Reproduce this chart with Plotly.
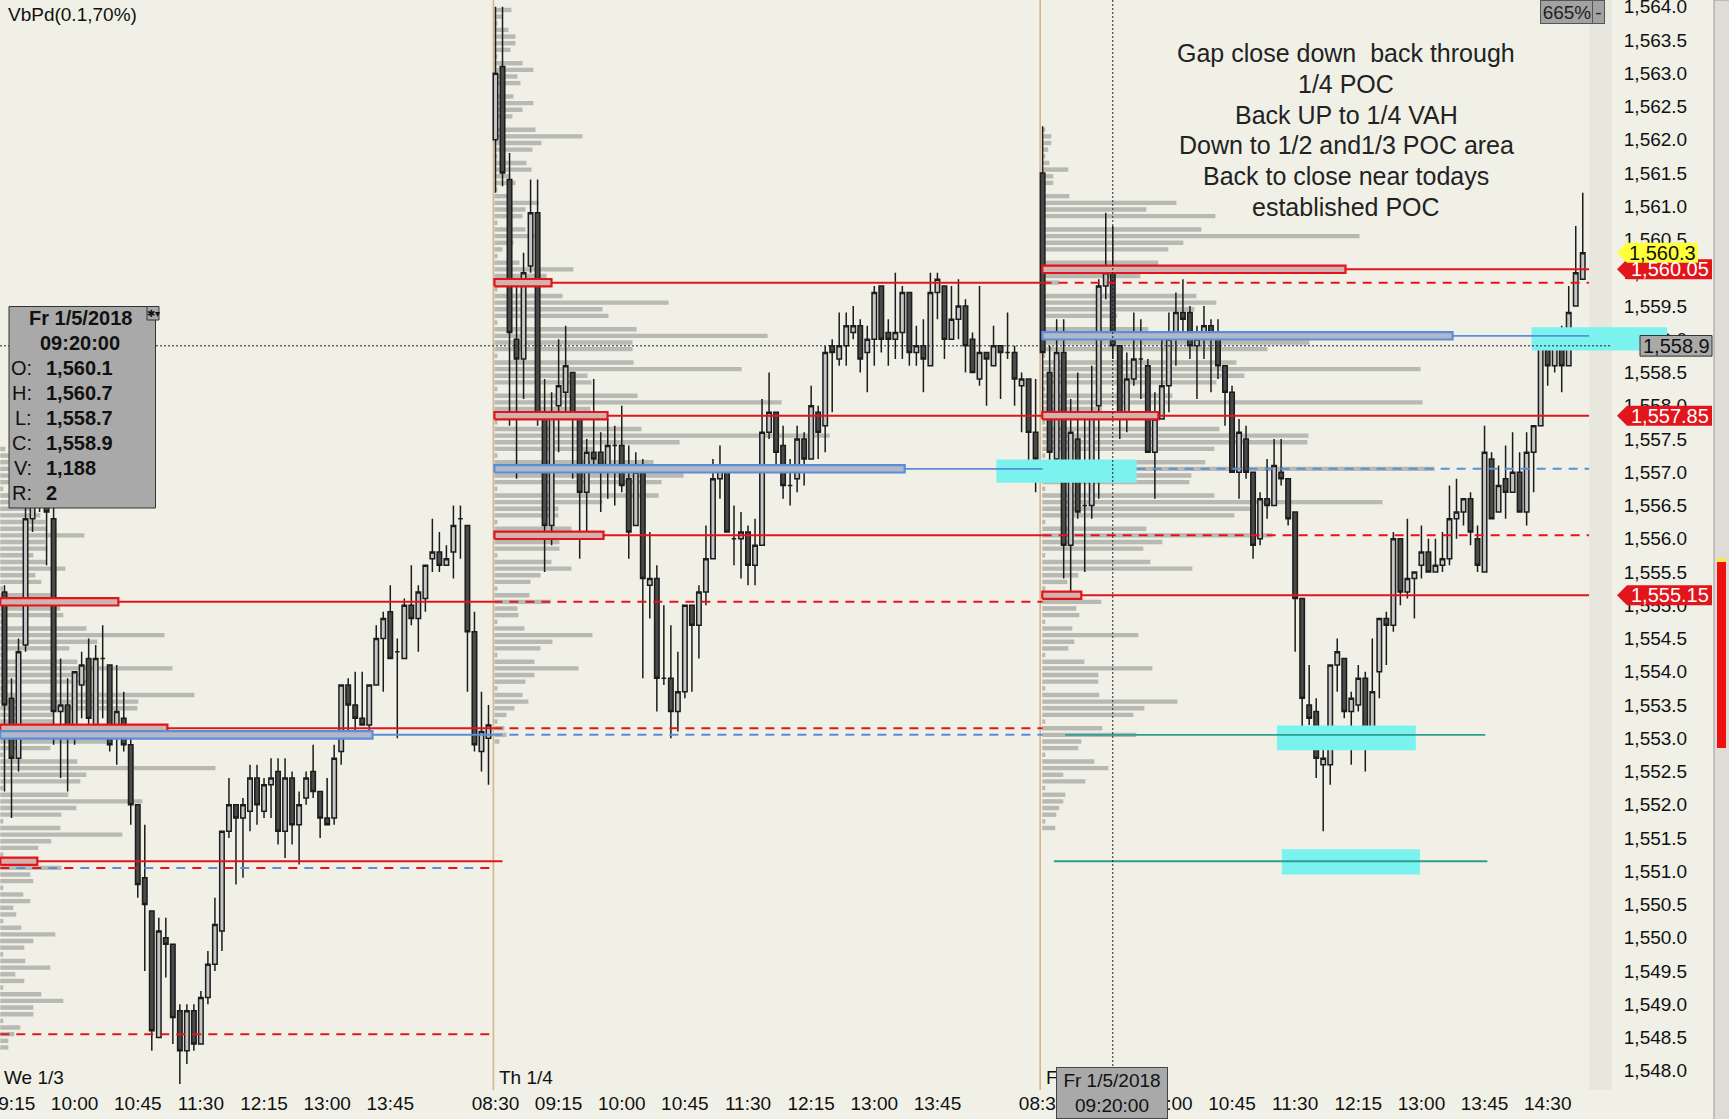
"""
Volume-profile chart (RTY 5-minute bars, 3 sessions) recreated with Plotly
"""
import numpy as np
import plotly.graph_objects as go

# ---------------------------------------------------------------- data
DAY_STARTS = [0, 70, 148]
DAY_LABELS = ['We 1/3', 'Th 1/4', 'F']

# Friday 09:15 sits under the crosshair time box, so it is not listed
TICK_IDX = [1, 10, 19, 28, 37, 46, 55,
            70, 79, 88, 97, 106, 115, 124, 133,
            148, 166, 175, 184, 193, 202, 211, 220]
TICK_TEXT = ['09:15', '10:00', '10:45', '11:30', '12:15', '13:00', '13:45',
             '08:30', '09:15', '10:00', '10:45', '11:30', '12:15', '13:00', '13:45',
             '08:30', '10:00', '10:45', '11:30', '12:15', '13:00', '13:45', '14:30']

# Wednesday 1/3 (09:10 - 14:55)
O1 = [1555.2, 1553.6, 1552.7, 1554.4, 1556.3, 1556.5, 1557.0, 1556.3, 1553.4, 1553.5,
      1553.2, 1553.8, 1554.2, 1553.2, 1554.2, 1554.1, 1553.0, 1553.3, 1552.9, 1552.0,
      1550.9, 1550.4, 1548.5, 1550.0, 1549.9, 1548.9, 1548.3, 1548.9, 1548.4, 1549.1,
      1549.6, 1550.1, 1551.6, 1552.0, 1551.8, 1551.9, 1552.4, 1551.9, 1552.3, 1552.5,
      1551.6, 1552.4, 1551.7, 1552.1, 1552.5, 1552.2, 1551.8, 1551.8, 1552.8, 1553.8,
      1553.5, 1553.3, 1553.2, 1553.8, 1554.5, 1554.9, 1554.3, 1554.2, 1555.0, 1554.8,
      1555.1, 1555.7, 1555.8, 1555.6, 1555.8, 1556.3, 1556.2, 1554.6, 1552.8, 1553.0]
H1 = [1555.3, 1553.9, 1554.5, 1556.7, 1556.8, 1557.2, 1557.3, 1556.9, 1554.2, 1553.9,
      1554.0, 1554.3, 1554.5, 1554.4, 1554.7, 1554.1, 1554.1, 1553.7, 1553.0, 1552.0,
      1551.7, 1550.4, 1550.3, 1550.3, 1549.9, 1549.0, 1549.0, 1549.0, 1549.2, 1549.8,
      1550.6, 1551.6, 1552.4, 1552.0, 1552.1, 1552.6, 1552.6, 1552.4, 1552.7, 1552.7,
      1552.7, 1552.5, 1552.2, 1552.5, 1552.9, 1552.2, 1552.4, 1552.9, 1553.8, 1553.9,
      1554.0, 1554.0, 1553.8, 1554.7, 1554.9, 1555.3, 1554.5, 1555.1, 1555.6, 1555.3,
      1555.6, 1556.3, 1556.1, 1555.9, 1556.5, 1556.5, 1556.2, 1554.9, 1553.7, 1553.5]
L1 = [1552.2, 1551.8, 1552.5, 1554.3, 1556.1, 1556.4, 1555.6, 1552.9, 1552.4, 1552.2,
      1552.9, 1553.3, 1553.2, 1553.2, 1553.3, 1552.8, 1552.6, 1552.8, 1551.7, 1550.6,
      1549.5, 1548.3, 1548.5, 1549.4, 1548.4, 1547.8, 1548.1, 1548.3, 1548.4, 1549.0,
      1549.5, 1549.8, 1551.5, 1550.8, 1550.9, 1551.6, 1551.7, 1551.8, 1551.8, 1551.4,
      1551.2, 1551.4, 1551.1, 1552.0, 1552.1, 1551.5, 1551.7, 1551.7, 1552.6, 1553.0,
      1553.0, 1553.2, 1553.1, 1553.8, 1553.7, 1554.2, 1553.0, 1554.2, 1554.7, 1554.3,
      1554.9, 1555.5, 1555.5, 1555.6, 1555.4, 1555.7, 1553.7, 1552.8, 1552.5, 1552.3]
C1 = [1553.5, 1552.7, 1554.3, 1556.3, 1556.5, 1557.0, 1556.4, 1553.4, 1553.5, 1553.1,
      1554.0, 1554.1, 1553.3, 1554.2, 1554.2, 1552.9, 1553.4, 1552.9, 1552.0, 1550.8,
      1550.5, 1548.6, 1550.1, 1549.9, 1548.8, 1548.3, 1548.9, 1548.4, 1549.1, 1549.6,
      1550.2, 1551.6, 1552.0, 1551.8, 1552.0, 1552.4, 1552.0, 1552.3, 1552.4, 1551.6,
      1552.4, 1551.7, 1552.0, 1552.4, 1552.2, 1551.8, 1551.7, 1552.7, 1553.8, 1553.5,
      1553.3, 1553.2, 1553.8, 1554.5, 1554.8, 1554.2, 1554.3, 1555.0, 1554.8, 1555.2,
      1555.6, 1555.8, 1555.6, 1555.7, 1556.2, 1556.3, 1554.6, 1552.9, 1553.1, 1553.2]

# Thursday 1/4 (08:30 - 14:55)
O2 = [1562.0, 1563.1, 1561.4, 1559.0, 1558.7, 1560.1, 1560.9, 1557.8, 1556.2, 1558.0,
      1558.2, 1558.5, 1557.8, 1556.7, 1557.3, 1557.3, 1557.1, 1557.4, 1557.4, 1556.9,
      1556.2, 1557.0, 1555.3, 1555.4, 1553.9, 1553.9, 1553.4, 1553.7, 1555.0, 1554.7,
      1555.2, 1555.7, 1556.9, 1557.1, 1556.0, 1556.0, 1556.1, 1555.6, 1555.9, 1557.6,
      1557.9, 1557.4, 1556.8, 1556.9, 1557.5, 1557.2, 1557.9, 1557.7, 1558.9, 1558.7,
      1558.9, 1559.1, 1559.2, 1558.8, 1559.0, 1559.8, 1559.1, 1559.0, 1559.1, 1559.7,
      1558.8, 1558.9, 1558.6, 1559.7, 1559.8, 1559.0, 1559.3, 1559.5, 1559.0, 1558.4,
      1558.8, 1558.6, 1558.9, 1558.8, 1558.8, 1558.3, 1558.4, 1557.6]
H2 = [1564.0, 1564.0, 1561.8, 1559.8, 1560.3, 1561.4, 1561.4, 1558.4, 1558.2, 1559.0,
      1559.2, 1558.5, 1557.8, 1557.5, 1558.4, 1557.6, 1557.8, 1557.7, 1558.0, 1557.4,
      1557.3, 1557.2, 1556.1, 1555.6, 1555.0, 1554.7, 1554.3, 1555.0, 1555.0, 1555.3,
      1556.2, 1557.2, 1557.4, 1557.1, 1556.5, 1556.4, 1556.2, 1556.3, 1558.1, 1558.5,
      1557.9, 1557.7, 1557.2, 1557.7, 1557.6, 1558.3, 1558.0, 1558.9, 1559.0, 1559.4,
      1559.4, 1559.5, 1559.3, 1559.2, 1559.8, 1559.8, 1559.3, 1560.0, 1559.8, 1559.7,
      1559.2, 1559.3, 1560.0, 1560.0, 1559.8, 1559.8, 1559.9, 1559.6, 1559.1, 1559.8,
      1558.8, 1559.2, 1558.9, 1559.4, 1558.9, 1558.5, 1558.4, 1558.4]
L2 = [1561.2, 1561.3, 1557.7, 1556.9, 1558.1, 1560.0, 1557.7, 1555.5, 1555.9, 1557.3,
      1557.9, 1556.9, 1555.7, 1556.1, 1557.1, 1556.4, 1556.6, 1556.5, 1556.7, 1555.7,
      1556.2, 1553.9, 1554.8, 1553.4, 1553.8, 1553.0, 1553.1, 1553.6, 1553.7, 1554.2,
      1555.0, 1555.7, 1556.6, 1556.1, 1555.6, 1555.4, 1555.3, 1555.3, 1555.9, 1557.5,
      1557.1, 1556.6, 1556.5, 1556.7, 1556.8, 1557.2, 1557.2, 1557.3, 1557.9, 1558.6,
      1558.6, 1559.0, 1558.5, 1558.2, 1558.6, 1558.8, 1558.6, 1558.7, 1558.7, 1558.6,
      1558.6, 1558.2, 1558.6, 1559.3, 1558.7, 1559.0, 1559.0, 1558.5, 1558.5, 1558.3,
      1558.0, 1558.6, 1558.1, 1558.7, 1558.0, 1557.6, 1556.9, 1556.7]
C2 = [1563.0, 1561.5, 1559.1, 1558.7, 1560.0, 1560.9, 1557.8, 1556.2, 1557.9, 1558.3,
      1558.6, 1557.8, 1556.7, 1557.3, 1557.2, 1557.1, 1557.4, 1557.4, 1556.8, 1556.1,
      1557.0, 1555.4, 1555.4, 1553.9, 1553.9, 1553.4, 1553.7, 1555.0, 1554.7, 1555.2,
      1555.7, 1556.9, 1557.1, 1556.1, 1556.0, 1556.1, 1555.6, 1555.9, 1557.6, 1557.9,
      1557.3, 1556.8, 1556.8, 1557.5, 1557.2, 1558.0, 1557.6, 1558.8, 1558.8, 1558.9,
      1559.2, 1559.2, 1558.7, 1559.0, 1559.7, 1559.0, 1559.0, 1559.1, 1559.7, 1558.8,
      1558.9, 1558.7, 1559.7, 1559.9, 1559.0, 1559.3, 1559.5, 1558.9, 1558.5, 1558.8,
      1558.7, 1558.9, 1558.8, 1558.8, 1558.4, 1558.4, 1557.6, 1557.2]

# Friday 1/5 (08:30 - 14:55)
O3 = [1561.5, 1558.5, 1557.2, 1558.8, 1555.9, 1557.5, 1556.5, 1556.5, 1558.0, 1559.8,
      1560.1, 1558.9, 1557.8, 1558.4, 1558.7, 1558.6, 1557.3, 1557.8, 1558.3, 1559.1,
      1559.4, 1559.4, 1558.9, 1559.0, 1559.2, 1559.0, 1558.6, 1558.2, 1557.0, 1557.5,
      1557.0, 1556.0, 1556.6, 1556.5, 1557.0, 1556.9, 1556.4, 1555.1, 1553.5, 1553.4,
      1552.6, 1552.6, 1554.1, 1554.2, 1553.4, 1553.5, 1553.9, 1553.1, 1554.0, 1554.8,
      1554.7, 1556.0, 1555.2, 1555.4, 1555.6, 1555.8, 1555.5, 1555.6, 1555.7, 1556.3,
      1556.4, 1556.6, 1556.0, 1555.5, 1557.2, 1556.4, 1556.9, 1556.7, 1557.0, 1556.4,
      1557.3, 1557.7, 1558.9, 1558.6, 1559.0, 1558.6, 1559.5, 1559.9]
H3 = [1562.2, 1558.9, 1559.3, 1559.3, 1558.1, 1558.5, 1557.8, 1558.6, 1559.9, 1560.9,
      1560.7, 1558.9, 1558.8, 1559.4, 1559.3, 1558.7, 1558.2, 1559.1, 1559.4, 1559.7,
      1559.9, 1559.5, 1559.2, 1559.5, 1559.3, 1559.3, 1558.6, 1558.3, 1557.8, 1557.7,
      1557.0, 1556.7, 1557.2, 1557.5, 1557.5, 1556.9, 1556.4, 1555.1, 1554.1, 1553.6,
      1552.9, 1554.1, 1554.5, 1554.2, 1553.7, 1554.1, 1554.0, 1554.5, 1554.8, 1554.9,
      1556.1, 1556.0, 1556.3, 1555.5, 1556.2, 1556.0, 1556.0, 1556.1, 1556.8, 1556.9,
      1556.6, 1556.7, 1556.2, 1557.7, 1557.3, 1557.1, 1557.4, 1557.6, 1557.3, 1557.6,
      1557.7, 1558.9, 1559.1, 1559.1, 1559.2, 1559.8, 1560.7, 1561.2]
L3 = [1557.8, 1557.0, 1557.0, 1555.4, 1555.2, 1556.3, 1555.5, 1556.3, 1556.6, 1559.6,
      1558.7, 1557.5, 1557.6, 1558.3, 1558.1, 1557.3, 1556.6, 1557.8, 1557.9, 1558.6,
      1559.0, 1558.7, 1558.1, 1558.7, 1558.2, 1558.4, 1557.7, 1557.0, 1556.6, 1556.9,
      1555.7, 1555.9, 1556.3, 1556.5, 1556.8, 1556.2, 1554.3, 1553.0, 1553.2, 1552.4,
      1551.6, 1552.3, 1553.7, 1553.3, 1552.6, 1553.4, 1552.5, 1552.9, 1553.6, 1554.1,
      1554.6, 1555.0, 1555.1, 1554.8, 1555.4, 1555.5, 1555.5, 1555.5, 1555.6, 1556.0,
      1556.2, 1555.9, 1555.5, 1555.5, 1556.3, 1556.4, 1556.3, 1556.7, 1556.4, 1556.2,
      1556.7, 1557.7, 1558.3, 1558.5, 1558.2, 1558.6, 1559.5, 1559.9]
C3 = [1558.8, 1557.3, 1558.8, 1555.9, 1557.6, 1556.4, 1556.5, 1557.9, 1559.8, 1560.0,
      1558.9, 1557.8, 1558.4, 1558.7, 1558.7, 1557.3, 1557.8, 1558.3, 1559.0, 1559.4,
      1559.3, 1558.9, 1559.0, 1559.2, 1559.0, 1558.6, 1558.2, 1557.0, 1557.6, 1557.0,
      1555.9, 1556.6, 1556.5, 1557.1, 1556.9, 1556.3, 1555.1, 1553.6, 1553.3, 1552.7,
      1552.7, 1554.1, 1554.3, 1553.4, 1553.6, 1553.9, 1553.1, 1553.7, 1554.8, 1554.7,
      1556.0, 1555.2, 1555.4, 1555.5, 1555.8, 1555.5, 1555.6, 1555.7, 1556.3, 1556.4,
      1556.6, 1556.1, 1555.6, 1557.3, 1556.3, 1556.8, 1556.7, 1557.0, 1556.4, 1557.3,
      1557.7, 1558.9, 1558.6, 1558.9, 1558.6, 1559.4, 1560.0, 1560.3]

# volume profile per session, 0.1 rows from the top price downwards (relative volume)
PROFILE_TOPS = [1557.35, 1563.95, 1562.15]
VOL1 = [5, 10, 15, 20, 30, 25, 3, 40, 35, 30,
        40, 45, 47, 84, 45, 47, 33, 46, 65, 35,
        41, 3, 52, 118, 60, 63, 3, 86, 164, 97,
        69, 3, 77, 172, 80, 90, 3, 194, 138, 137,
        53, 53, 167, 372, 106, 50, 3, 77, 215, 86,
        80, 3, 68, 142, 76, 61, 3, 60, 122, 51,
        38, 3, 37, 61, 30, 33, 3, 23, 30, 13,
        16, 3, 21, 55, 33, 24, 3, 25, 50, 15,
        24, 3, 41, 63, 33, 33, 3, 20, 14, 8,
        8]
VOL2 = [17, 8, 3, 14, 21, 21, 16, 3, 28, 39,
        23, 26, 3, 19, 39, 28, 18, 3, 41, 88,
        47, 38, 3, 32, 37, 16, 21, 3, 15, 44,
        31, 28, 3, 31, 40, 19, 8, 3, 25, 79,
        52, 57, 3, 68, 174, 108, 114, 3, 142, 273,
        138, 138, 3, 139, 247, 93, 97, 3, 143, 287,
        96, 113, 3, 147, 335, 185, 99, 3, 159, 410,
        189, 167, 3, 164, 108, 64, 64, 3, 77, 109,
        65, 65, 3, 57, 77, 46, 36, 3, 35, 56,
        23, 24, 3, 30, 98, 58, 46, 3, 40, 84,
        40, 31, 3, 28, 34, 20, 12, 3, 10, 12,
        5]
VOL3 = [3, 9, 9, 6, 3, 7, 26, 11, 11, 3,
        27, 134, 104, 173, 3, 159, 317, 141, 126, 3,
        116, 303, 98, 17, 3, 154, 174, 152, 75, 3,
        106, 410, 267, 225, 3, 194, 378, 202, 174, 3,
        130, 380, 60, 116, 3, 177, 266, 265, 172, 3,
        163, 392, 149, 147, 3, 172, 340, 213, 192, 3,
        104, 230, 120, 101, 3, 108, 150, 36, 25, 3,
        39, 59, 34, 37, 3, 30, 96, 32, 26, 3,
        42, 110, 56, 56, 3, 57, 135, 102, 91, 3,
        60, 94, 39, 36, 3, 52, 66, 21, 43, 3,
        23, 21, 17, 14, 3, 13]

# value-area / POC markers: (session, price, kind)
VA_MARKS = [(0, 1555.05, 'va'), (0, 1553.15, 'va'), (0, 1553.05, 'poc'), (0, 1551.15, 'va'),
            (1, 1559.85, 'va'), (1, 1557.85, 'va'), (1, 1557.05, 'poc'), (1, 1556.05, 'va'),
            (2, 1560.05, 'va'), (2, 1559.05, 'poc'), (2, 1557.85, 'va'), (2, 1555.15, 'va')]

ANNOT_LINES = ['Gap close down\u00a0 back through', '1/4 POC', 'Back UP to 1/4 VAH',
               'Down to 1/2 and1/3 POC area', 'Back to close near todays', 'established POC']

CROSS_BAR = 10          # Friday 09:20 bar under the crosshair
CROSS_VOL = '1,188'
RIGHT_FLAGS = [1560.05, 1557.85, 1555.15]

# ---------------------------------------------------------------- styles
FONT = 'Liberation Sans, Arial, sans-serif'
BG = '#f0f0e6'
RED = '#e2141c'
BLUE = '#5b8ed8'
TEAL = '#2e9e92'
CYAN = '#7af3ef'
GRAY_BAR = '#b9b9b3'
TAN = '#d6b48e'
PLOT_W, PLOT_H = 1612, 1090
PROFILE_BASE = [-0.6, 69.85, 147.95]
PROFILE_SCALE = 1 / 7.01      # volume units -> bar slots
DAY_END = [69.7, 148.0, 225.9]


def px(v):
    return v / PLOT_W


def py(v):
    return 1 - v / PLOT_H


fig = go.Figure()


def seg(x0, x1, y, color, dash='solid', width=2):
    fig.add_trace(go.Scatter(x=[x0, x1], y=[y, y], mode='lines',
                             line=dict(color=color, width=width, dash=dash),
                             hoverinfo='skip', showlegend=False))


def rect(x0, x1, y0, y1, fill, line_color=None, width=0):
    fig.add_trace(go.Scatter(x=[x0, x1, x1, x0, x0], y=[y0, y0, y1, y1, y0],
                             mode='lines', fill='toself', fillcolor=fill,
                             line=dict(color=line_color or fill, width=width),
                             hoverinfo='skip', showlegend=False))


# volume profiles
profiles = []
for top, vols, base in zip(PROFILE_TOPS, [VOL1, VOL2, VOL3], PROFILE_BASE):
    prices = np.round(top - 0.1 * np.arange(len(vols)), 2)
    lengths = np.array(vols) * PROFILE_SCALE
    profiles.append(dict(zip(prices, lengths)))
    fig.add_trace(go.Bar(y=prices, x=lengths, base=base, orientation='h', width=0.066,
                         marker=dict(color=GRAY_BAR, line=dict(width=0)),
                         hoverinfo='skip', showlegend=False))

# cyan "touch" zones
rect(141.4, 161.4, 1556.84, 1557.19, CYAN)
rect(181.4, 201.2, 1552.82, 1553.19, CYAN)
rect(182.1, 201.8, 1550.95, 1551.33, CYAN)
rect(217.7, 229.2, 1558.83, 1559.18, CYAN)

# naked / developing levels
B1, B2, B3 = PROFILE_BASE
E1, E2, E3 = DAY_END
seg(B1, E1, 1555.05, RED); seg(E1, E2, 1555.05, RED, '9px,7px')
seg(B1, E1, 1553.15, RED); seg(E1, E2, 1553.15, RED, '9px,7px')
seg(B1, E1, 1553.05, BLUE); seg(E1, E2, 1553.05, BLUE, '9px,7px')
seg(B1, 71.0, 1551.15, RED)
seg(B1, E1, 1551.05, RED, '9px,23px'); seg(B1, E1, 1551.05, BLUE, '0px,16px,9px,7px')
seg(B1, E1, 1548.55, RED, '9px,7px')
seg(B2, E2, 1559.85, RED); seg(E2, E3, 1559.85, RED, '9px,7px')
seg(B2, E2, 1557.85, RED)
seg(B2, E2, 1557.05, BLUE, width=1.6); seg(161.4, E3, 1557.05, BLUE, '9px,7px')
seg(B2, E2, 1556.05, RED); seg(E2, E3, 1556.05, RED, '9px,7px')
seg(B3, E3, 1560.05, RED)
seg(B3, E3, 1559.05, BLUE, width=1.6)
seg(B3, E3, 1557.85, RED)
seg(B3, E3, 1555.15, RED)
seg(151.2, 211.1, 1553.05, TEAL, width=1.8)
seg(149.6, 211.4, 1551.15, TEAL, width=1.8)

# value-area boxes on the profiles
for day, price, kind in VA_MARKS:
    base = PROFILE_BASE[day]
    length = profiles[day][round(price, 2)]
    if kind == 'poc':
        rect(base, base + length, price - 0.055, price + 0.055, '#b3b8c8', BLUE, 2.2)
    else:
        rect(base, base + length, price - 0.055, price + 0.055, '#d2b2ae', RED, 2.2)

# candles
opens = O1 + O2 + O3
highs = H1 + H2 + H3
lows = L1 + L2 + L3
closes = C1 + C2 + C3
xs = np.concatenate([DAY_STARTS[0] + np.arange(len(O1)),
                     DAY_STARTS[1] + np.arange(len(O2)),
                     DAY_STARTS[2] + np.arange(len(O3))])
fig.add_trace(go.Candlestick(
    x=xs, open=opens, high=highs, low=lows, close=closes,
    increasing=dict(fillcolor='#c6c6c6', line=dict(color='#1c1c1c', width=1.5)),
    decreasing=dict(fillcolor='#4a4a4a', line=dict(color='#1c1c1c', width=1.5)),
    whiskerwidth=0, hoverinfo='skip', showlegend=False))

cross_x = DAY_STARTS[2] + CROSS_BAR
cross_o, cross_h = O3[CROSS_BAR], H3[CROSS_BAR]
cross_l, cross_c = L3[CROSS_BAR], C3[CROSS_BAR]
last_price = C3[-1]

shapes = []
annotations = []


def ann(**kw):
    kw.setdefault('showarrow', False)
    kw.setdefault('xanchor', 'center')
    kw.setdefault('yanchor', 'middle')
    annotations.append(kw)


# session separators and right hatched margin
for x in [E1, B3 - 0.3]:
    shapes.append(dict(type='line', xref='x', yref='paper', x0=x, x1=x, y0=0, y1=1,
                       line=dict(color=TAN, width=1.6), layer='below'))
shapes.append(dict(type='rect', xref='x', yref='paper', x0=E3, x1=229.2, y0=0, y1=1,
                   fillcolor='#e7e7dd', line=dict(width=0), layer='below'))
# crosshair
shapes.append(dict(type='line', xref='x', yref='paper', x0=cross_x, x1=cross_x, y0=0, y1=1,
                   line=dict(color='#222', width=1, dash='2px,2px')))
shapes.append(dict(type='line', xref='paper', yref='y', x0=0, x1=px(1640), y0=cross_c, y1=cross_c,
                   line=dict(color='#222', width=1, dash='2px,2px')))
# cyan zone continuing into the price scale
shapes.append(dict(type='rect', xref='paper', yref='y', x0=1.0, x1=px(1667), y0=1558.83, y1=1559.18,
                   fillcolor=CYAN, line=dict(width=0), layer='above'))
# right strip with the red gauge
shapes.append(dict(type='rect', xref='paper', yref='paper', x0=px(1714), x1=px(1732), y0=-0.05, y1=1.0,
                   fillcolor='#dedcd4', line=dict(color='#9a9a9a', width=1)))
shapes.append(dict(type='rect', xref='paper', yref='paper', x0=px(1717), x1=px(1726),
                   y0=py(748), y1=py(562), fillcolor='#ee1111', line=dict(width=0)))
shapes.append(dict(type='rect', xref='paper', yref='paper', x0=px(1717), x1=px(1726),
                   y0=py(562), y1=py(558), fillcolor='#f5e94a', line=dict(width=0)))


def flag(price, text, fill, font_color, right):
    h = 0.15
    tip, x1, x2 = px(1617), px(1627), px(right)
    shapes.append(dict(type='path', xref='paper', yref='y', fillcolor=fill, line=dict(width=0),
                       path=f'M {tip},{price} L {x1},{price + h} L {x2},{price + h} '
                            f'L {x2},{price - h} L {x1},{price - h} Z'))
    ann(xref='paper', yref='y', x=(x1 + x2) / 2, y=price, text=text,
        font=dict(size=20, color=font_color))


for p in RIGHT_FLAGS:
    flag(p, f'{p:,.2f}', RED, 'white', 1712)
flag(last_price, f'{last_price:,.1f}', '#ffff3a', '#111', 1698)

# crosshair price box
shapes.append(dict(type='rect', xref='paper', yref='y', x0=px(1640), x1=px(1712),
                   y0=cross_c - 0.155, y1=cross_c + 0.155, fillcolor='#a9a9a9',
                   line=dict(color='#333', width=1)))
ann(xref='paper', yref='y', x=px(1676), y=cross_c, text=f'{cross_c:,.1f}',
    font=dict(size=20, color='#111'))

# data window (info box)
shapes.append(dict(type='rect', xref='paper', yref='paper', x0=px(9), x1=px(155.5),
                   y0=py(508), y1=py(306.5), fillcolor='#a9a9a9', line=dict(color='#333', width=1)))
shapes.append(dict(type='rect', xref='paper', yref='paper', x0=px(147), x1=px(159),
                   y0=py(320), y1=py(306.5), fillcolor='#a9a9a9', line=dict(color='#333', width=1)))
ann(xref='paper', yref='paper', x=px(153), y=py(313), text='✱▾', font=dict(size=10, color='#111'))
ann(xref='paper', yref='paper', x=px(80), y=py(317.5), text='<b>Fr 1/5/2018</b>',
    font=dict(size=20, color='#111'))
ann(xref='paper', yref='paper', x=px(80), y=py(343), text='<b>09:20:00</b>',
    font=dict(size=20, color='#111'))
info_rows = [('O:', f'{cross_o:,.1f}'), ('H:', f'{cross_h:,.1f}'), ('L:', f'{cross_l:,.1f}'),
             ('C:', f'{cross_c:,.1f}'), ('V:', CROSS_VOL), ('R:', '2')]
for n, (lab, val) in enumerate(info_rows):
    yy = py(368 + 24.9 * n)
    ann(xref='paper', yref='paper', x=px(34), y=yy, text=lab, xanchor='right',
        font=dict(size=20, color='#111'))
    ann(xref='paper', yref='paper', x=px(44), y=yy, text=f'<b>{val}</b>', xanchor='left',
        font=dict(size=20, color='#111'))

# indicator title and zoom box
ann(xref='paper', yref='paper', x=px(6), y=py(14), text='VbPd(0.1,70%)', xanchor='left',
    font=dict(size=19, color='#111'))
ann(xref='paper', yref='paper', x=px(1567), y=py(12), text='665%',
    font=dict(size=19, color='#222'), bgcolor='#a2a2a2',
    bordercolor='#555', borderwidth=1, width=50, height=20)
ann(xref='paper', yref='paper', x=px(1598), y=py(12), text='-',
    font=dict(size=19, color='#222'), bgcolor='#a2a2a2',
    bordercolor='#555', borderwidth=1, width=9, height=20)

# comment text
for n, line in enumerate(ANNOT_LINES):
    ann(xref='x', yref='paper', x=191.3, y=py(53 + 30.8 * n), text=line,
        font=dict(size=25, color='#222'))

# session labels
for start, lab in zip(PROFILE_BASE, DAY_LABELS):
    ann(xref='x', yref='paper', x=start + 0.3, y=py(1077), text=lab, xanchor='left',
        font=dict(size=19, color='#111'))

# crosshair time box on the time axis
ann(xref='paper', yref='paper', x=px(1112), y=py(1093),
    text='Fr 1/5/2018<br>09:20:00', font=dict(size=19, color='#111'), bgcolor='#a9a9a9',
    bordercolor='#444', borderwidth=1, width=108, height=48)

fig.update_layout(
    width=1729, height=1119,
    margin=dict(l=0, r=1729 - PLOT_W, t=0, b=1119 - PLOT_H, autoexpand=False),
    paper_bgcolor=BG, plot_bgcolor=BG,
    barmode='overlay', boxgap=0.36, boxgroupgap=0,
    showlegend=False,
    font=dict(family=FONT, size=19, color='#1a1a1a'),
    xaxis=dict(range=[-0.64, 229.17], tickvals=TICK_IDX, ticktext=TICK_TEXT, tickangle=0,
               showgrid=False, zeroline=False, showline=False, ticks='',
               ticklabeloverflow='allow', automargin=False,
               rangeslider=dict(visible=False), tickfont=dict(size=19, color='#111')),
    yaxis=dict(side='right', range=[1547.71, 1564.10], dtick=0.5, tick0=1548,
               tickformat=',.1f', showgrid=False, zeroline=False, showline=False,
               ticks='outside', ticklen=7, tickcolor='rgba(0,0,0,0)',
               ticklabeloverflow='allow', automargin=False,
               tickfont=dict(size=19, color='#111')),
    shapes=shapes,
    annotations=annotations,
)

fig.write_html("out.html", config={'displayModeBar': False},
               post_script="document.body.style.margin='0px';")
